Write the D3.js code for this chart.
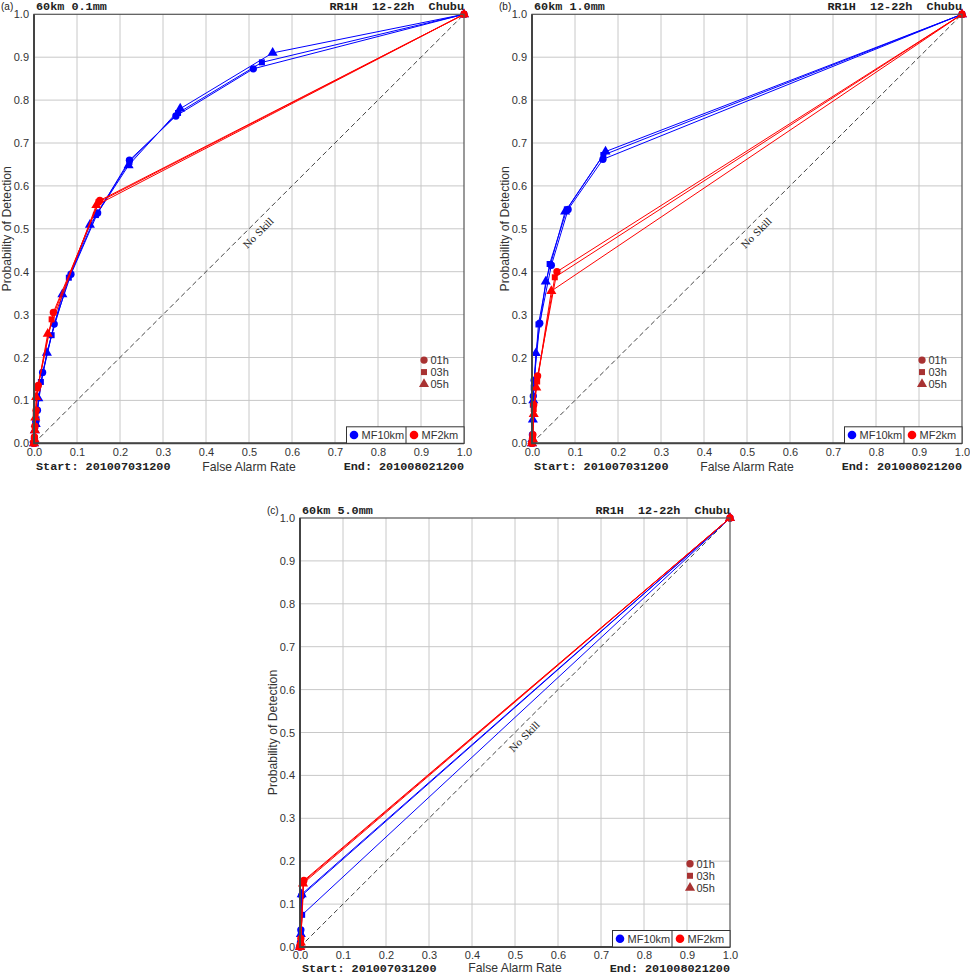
<!DOCTYPE html>
<html>
<head>
<meta charset="utf-8">
<script src="https://cdn.jsdelivr.net/npm/d3@7"></script>
<style>
  body { margin: 0; background: #fff; }
  svg { display: block; }
  .tick-label { font-family: "Liberation Sans", Arial, sans-serif; font-size: 11px; fill: #333; }
  .axis-title { font-family: "Liberation Sans", Arial, sans-serif; font-size: 12.2px; fill: #333; }
  .mono { font-family: "Liberation Mono", "Courier New", monospace; font-size: 11.8px; font-weight: bold; fill: #222; white-space: pre; }
</style>
</head>
<body>
<script>
// ---- data ----
const leadTimes = ["01h", "03h", "05h"];
const models = ["MF10km", "MF2km"];
const modelColors = ["#0000ff", "#ff0000"];
const panelTags = ["(a)", "(b)", "(c)"];
const panelTitles = ["60km 0.1mm", "60km 1.0mm", "60km 5.0mm"];
const titleRight = "RR1H  12-22h  Chubu";
const startLabel = "Start: 201007031200";
const endLabel = "End: 201008021200";
const tickValues = [0, 0.1, 0.2, 0.3, 0.4, 0.5, 0.6, 0.7, 0.8, 0.9, 1.0];

// [false alarm rate, probability of detection]
const a10_01 = [[0,0],[0.001,0.012],[0.004,0.05],[0.008,0.077],[0.02,0.165],[0.047,0.278],[0.086,0.394],[0.148,0.537],[0.222,0.66],[0.33,0.763],[0.51,0.873],[1,1]];
const a10_03 = [[0,0],[0.001,0.01],[0.003,0.04],[0.006,0.056],[0.016,0.143],[0.041,0.252],[0.081,0.386],[0.144,0.532],[0.222,0.656],[0.335,0.77],[0.53,0.888],[1,1]];
const a10_05 = [[0,0],[0.001,0.008],[0.002,0.03],[0.004,0.045],[0.01,0.105],[0.03,0.211],[0.066,0.347],[0.13,0.509],[0.22,0.648],[0.34,0.78],[0.555,0.91],[1,1]];
const a2_01 = [[0,0],[0.001,0.015],[0.002,0.04],[0.005,0.077],[0.01,0.135],[0.045,0.305],[0.153,0.566],[1,1]];
const a2_03 = [[0,0],[0.001,0.012],[0.002,0.035],[0.004,0.07],[0.008,0.128],[0.041,0.289],[0.15,0.562],[1,1]];
const a2_05 = [[0,0],[0.001,0.01],[0.002,0.03],[0.003,0.06],[0.005,0.108],[0.032,0.255],[0.145,0.555],[1,1]];

const b10_01 = [[0,0],[0.001,0.02],[0.003,0.11],[0.005,0.147],[0.018,0.28],[0.045,0.415],[0.084,0.545],[0.165,0.662],[1,1]];
const b10_03 = [[0,0],[0.001,0.015],[0.002,0.09],[0.004,0.13],[0.015,0.277],[0.041,0.418],[0.081,0.545],[0.166,0.672],[1,1]];
const b10_05 = [[0,0],[0.001,0.01],[0.002,0.055],[0.003,0.1],[0.009,0.21],[0.032,0.377],[0.077,0.54],[0.171,0.68],[1,1]];
const b2_01 = [[0,0],[0.001,0.01],[0.002,0.02],[0.004,0.09],[0.013,0.157],[0.058,0.4],[1,1]];
const b2_03 = [[0,0],[0.001,0.008],[0.002,0.015],[0.004,0.08],[0.012,0.144],[0.053,0.387],[1,1]];
const b2_05 = [[0,0],[0.001,0.005],[0.002,0.01],[0.004,0.068],[0.01,0.13],[0.045,0.355],[1,1]];

const c10_01 = [[0,0],[0.001,0.01],[0.002,0.04],[0.004,0.12],[1,1]];
const c10_03 = [[0,0],[0.001,0.008],[0.002,0.035],[0.005,0.075],[1,1]];
const c10_05 = [[0,0],[0.001,0.005],[0.002,0.03],[0.004,0.123],[1,1]];
const c2_01 = [[0,0],[0.001,0.005],[0.002,0.02],[0.009,0.155],[1,1]];
const c2_03 = [[0,0],[0.001,0.004],[0.002,0.015],[0.008,0.152],[1,1]];
const c2_05 = [[0,0],[0.001,0.003],[0.002,0.01],[0.007,0.148],[1,1]];

const panelSeries = [
  [[a10_01, a10_03, a10_05], [a2_01, a2_03, a2_05]],
  [[b10_01, b10_03, b10_05], [b2_01, b2_03, b2_05]],
  [[c10_01, c10_03, c10_05], [c2_01, c2_03, c2_05]]
];

// ---- layout ----
const svgWidth = 970, svgHeight = 975;
const plotW = 430, plotH = 429;
const origins = [[34, 14.3], [532, 14.3], [300, 518]];
const captionOffsets = [27, 27, 24.5];
const symbolTypes = [d3.symbolCircle, d3.symbolSquare, d3.symbolTriangle];
const symbolSizes = [42, 36, 44];

const svg = d3.create("svg")
  .attr("width", svgWidth)
  .attr("height", svgHeight);

panelSeries.forEach((series, p) => {
  const [ox, oy] = origins[p];
  const x = d3.scaleLinear().domain([0, 1]).range([0, plotW]);
  const y = d3.scaleLinear().domain([0, 1]).range([plotH, 0]);

  const g = svg.append("g").attr("transform", `translate(${ox},${oy})`);

  // grid
  g.append("g").selectAll("line")
    .data(tickValues.slice(1, -1))
    .join("line")
    .attr("x1", d => x(d)).attr("x2", d => x(d))
    .attr("y1", 0).attr("y2", plotH)
    .attr("stroke", "#c8c8c8").attr("stroke-width", 1);
  g.append("g").selectAll("line")
    .data(tickValues.slice(1, -1))
    .join("line")
    .attr("y1", d => y(d)).attr("y2", d => y(d))
    .attr("x1", 0).attr("x2", plotW)
    .attr("stroke", "#c8c8c8").attr("stroke-width", 1);

  // axes tick labels
  const gx = g.append("g")
    .attr("transform", `translate(0,${plotH})`)
    .call(d3.axisBottom(x).tickValues(tickValues).tickFormat(d3.format(".1f")).tickSize(0).tickPadding(4.5));
  const gy = g.append("g")
    .call(d3.axisLeft(y).tickValues(tickValues).tickFormat(d3.format(".1f")).tickSize(0).tickPadding(5));
  [gx, gy].forEach(a => {
    a.select(".domain").remove();
    a.selectAll("text").attr("class", "tick-label").attr("font-family", null).attr("font-size", null);
  });

  // no-skill diagonal
  g.append("line")
    .attr("x1", x(0)).attr("y1", y(0)).attr("x2", x(1)).attr("y2", y(1))
    .attr("stroke", "#444").attr("stroke-width", 1).attr("stroke-dasharray", "5,3");
  g.append("text")
    .attr("transform", `translate(${x(0.522)},${y(0.49)}) rotate(-45)`)
    .attr("text-anchor", "middle")
    .attr("dy", "0.35em")
    .attr("font-family", "'DejaVu Serif', serif")
    .attr("font-size", 9.5)
    .attr("fill", "#222")
    .text("No Skill");

  // series lines and markers
  const line = d3.line().x(d => x(d[0])).y(d => y(d[1]));
  series.forEach((modelSeries, m) => {
    modelSeries.forEach((pts, k) => {
      g.append("path")
        .attr("d", line(pts))
        .attr("fill", "none")
        .attr("stroke", modelColors[m])
        .attr("stroke-width", 1);
      g.append("g").selectAll("path")
        .data(pts)
        .join("path")
        .attr("transform", d => `translate(${x(d[0])},${y(d[1])})`)
        .attr("d", d3.symbol().type(symbolTypes[k]).size(symbolSizes[k]))
        .attr("fill", modelColors[m]);
    });
  });

  // frame
  g.append("rect")
    .attr("width", plotW).attr("height", plotH)
    .attr("fill", "none").attr("stroke", "#555").attr("stroke-width", 1.2);
  g.append("path")
    .attr("d", `M0,0V${plotH}H${plotW}`)
    .attr("fill", "none").attr("stroke", "#444").attr("stroke-width", 2);

  // lead-time legend
  const lg = g.append("g");
  leadTimes.forEach((lt, k) => {
    const ly = y(0.194 - k * 0.028);
    lg.append("path")
      .attr("transform", `translate(${x(0.907)},${ly})`)
      .attr("d", d3.symbol().type(symbolTypes[k]).size(symbolSizes[k]))
      .attr("fill", "#a83232");
    lg.append("text")
      .attr("class", "tick-label")
      .attr("x", x(0.922)).attr("y", ly).attr("dy", "0.35em")
      .text(lt);
  });

  // model legend box
  const bx = plotW - 117.5, bh = 16.5, by = plotH - bh;
  const mg = g.append("g");
  mg.append("rect")
    .attr("x", bx).attr("y", by).attr("width", 117.5).attr("height", bh)
    .attr("fill", "#fff").attr("stroke", "#333").attr("stroke-width", 1);
  mg.append("line")
    .attr("x1", bx + 59.5).attr("x2", bx + 59.5).attr("y1", by).attr("y2", plotH)
    .attr("stroke", "#333");
  models.forEach((mName, m) => {
    const cx = bx + 7.5 + m * 60;
    mg.append("circle")
      .attr("cx", cx).attr("cy", by + bh / 2).attr("r", 4.3)
      .attr("fill", modelColors[m]);
    mg.append("text")
      .attr("class", "tick-label")
      .attr("x", cx + 7.5).attr("y", by + bh / 2).attr("dy", "0.36em")
      .text(mName);
  });

  // titles and captions
  svg.append("text")
    .attr("x", ox - 33).attr("y", oy - 4.5)
    .attr("font-family", "'Liberation Sans', Arial, sans-serif")
    .attr("font-size", 10).attr("fill", "#222")
    .text(panelTags[p]);
  g.append("text").attr("class", "mono")
    .attr("x", 2).attr("y", -4.5)
    .text(panelTitles[p]);
  g.append("text").attr("class", "mono")
    .attr("x", plotW).attr("y", -4.5).attr("text-anchor", "end")
    .text(titleRight);
  const cy = plotH + captionOffsets[p];
  g.append("text").attr("class", "mono")
    .attr("x", 2).attr("y", cy)
    .text(startLabel);
  g.append("text").attr("class", "mono")
    .attr("x", plotW).attr("y", cy).attr("text-anchor", "end")
    .text(endLabel);
  g.append("text").attr("class", "axis-title")
    .attr("x", plotW / 2).attr("y", cy + 0.8).attr("text-anchor", "middle")
    .text("False Alarm Rate");
  g.append("text").attr("class", "axis-title")
    .attr("transform", `translate(${-24},${plotH / 2}) rotate(-90)`)
    .attr("text-anchor", "middle")
    .attr("dy", "0.1em")
    .attr("font-size", 12.8)
    .text("Probability of Detection");
});

document.body.append(svg.node());
</script>
</body>
</html>
